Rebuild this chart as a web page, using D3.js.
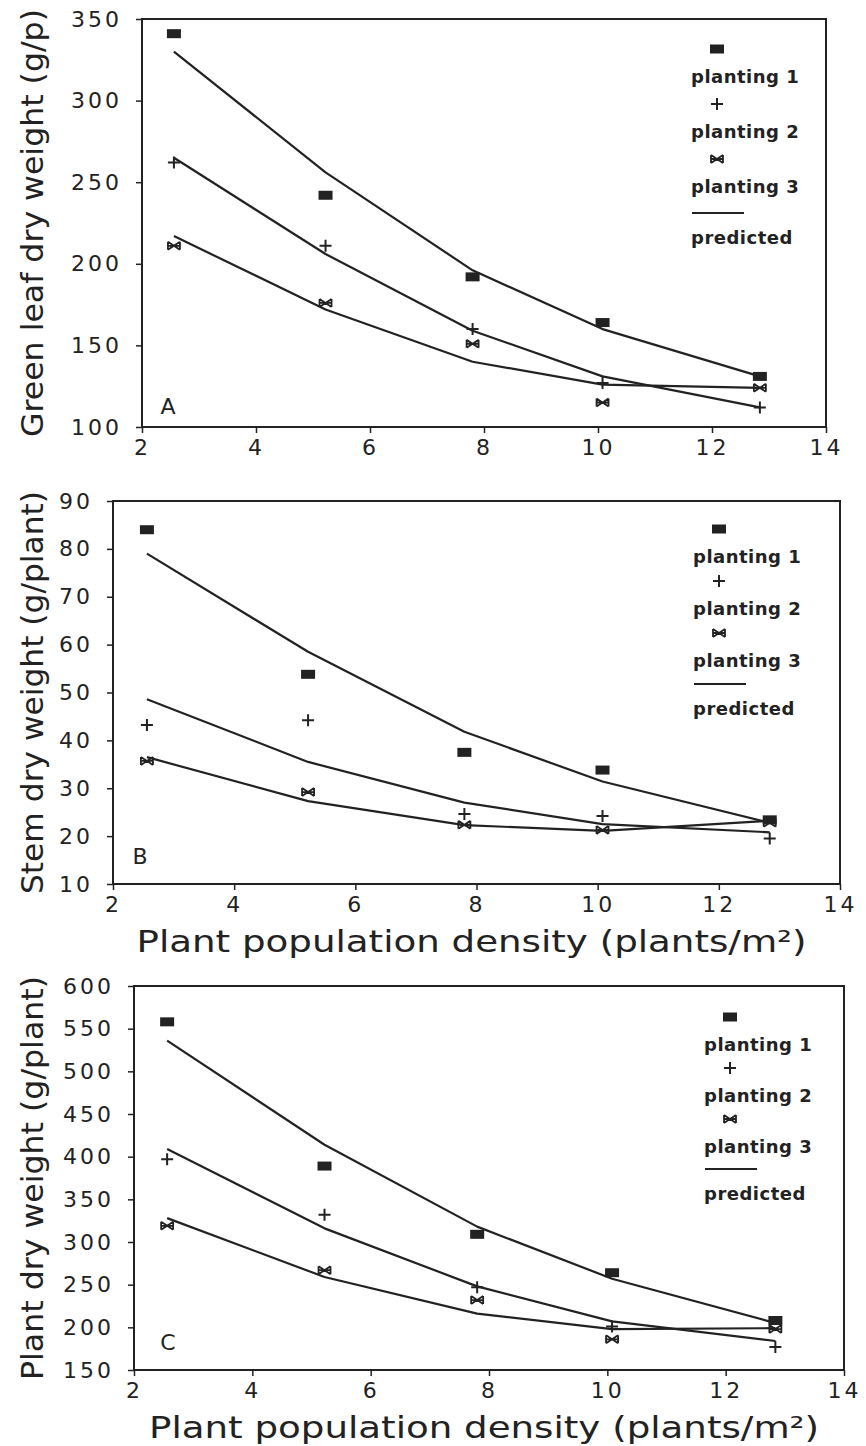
<!DOCTYPE html>
<html>
<head>
<meta charset="utf-8">
<script src="https://cdn.jsdelivr.net/npm/d3@7"></script>
<style>
  body { margin: 0; background: #fff; }
  text { font-family: "DejaVu Sans", sans-serif; fill: #222; }
</style>
</head>
<body>
<svg id="chart" width="866" height="1446"></svg>
<script>
// plant population density (plants/m2)
var density = [2.56, 5.22, 7.8, 10.08, 12.84];
var xTicks = [2, 4, 6, 8, 10, 12, 14];

// A: green leaf dry weight
var leafP1 = [341, 242, 192, 164, 131];
var leafP2 = [262, 211, 160, 127, 112];
var leafP3 = [211, 176, 151, 115, 124];
var leafPred1 = [330, 256, 196, 160, 131];
var leafPred2 = [265, 206, 159, 131, 112];
var leafPred3 = [217, 172, 140, 126, 124];
var leafTicks = [100, 150, 200, 250, 300, 350];

// B: stem dry weight
var stemP1 = [84, 53.8, 37.5, 33.8, 23.4];
var stemP2 = [43.2, 44.2, 24.6, 24.2, 19.5];
var stemP3 = [35.7, 29.2, 22.4, 21.3, 22.8];
var stemPred1 = [79, 58.5, 41.8, 31.4, 22.8];
var stemPred2 = [48.6, 35.5, 27, 22.5, 20.8];
var stemPred3 = [36.5, 27.3, 22.3, 21.1, 23.2];
var stemTicks = [10, 20, 30, 40, 50, 60, 70, 80, 90];

// C: plant dry weight
var plantP1 = [558, 389, 309, 264, 208];
var plantP2 = [397, 332, 247, 201, 177];
var plantP3 = [319, 267, 232, 186, 198];
var plantPred1 = [536, 414, 318, 257, 205];
var plantPred2 = [409, 316, 248, 207, 184];
var plantPred3 = [328, 259, 216, 198, 199];
var plantTicks = [150, 200, 250, 300, 350, 400, 450, 500, 550, 600];

var legendLabels = ["planting 1", "planting 2", "planting 3", "predicted"];
var markerTypes = ["square", "plus", "star"];
var xTitle = "Plant population density (plants/m\u00b2)";

var panels = [
  {letter: "A", ytitle: "Green leaf dry weight (g/p)", ticks: leafTicks,
   obs: [leafP1, leafP2, leafP3], pred: [leafPred1, leafPred2, leafPred3],
   left: 142, right: 826, top: 19, bottom: 427, xtitle: null,
   legX: 717, legY: 49, legStep: 55, letterPos: [168, 414]},
  {letter: "B", ytitle: "Stem dry weight (g/plant)", ticks: stemTicks,
   obs: [stemP1, stemP2, stemP3], pred: [stemPred1, stemPred2, stemPred3],
   left: 113, right: 840, top: 501, bottom: 884, xtitle: 952,
   legX: 719, legY: 529, legStep: 52, letterPos: [140, 864]},
  {letter: "C", ytitle: "Plant dry weight (g/plant)", ticks: plantTicks,
   obs: [plantP1, plantP2, plantP3], pred: [plantPred1, plantPred2, plantPred3],
   left: 134, right: 844, top: 986, bottom: 1370, xtitle: 1438,
   legX: 730, legY: 1017, legStep: 51, letterPos: [168, 1350]}
];

var svg = d3.select("#chart");
var ink = "#222";

function marker(g, type, x, y){
    if(type=="square"){
        g.append("rect").attr("x",x-7).attr("y",y-4.5)
            .attr("width",14).attr("height",9).attr("fill",ink);
    } else if(type=="plus"){
        g.append("path")
            .attr("d","M"+(x-6)+","+y+"H"+(x+6)+"M"+x+","+(y-6)+"V"+(y+6))
            .attr("stroke",ink).attr("stroke-width",2).attr("fill","none");
    } else {
        g.append("path")
            .attr("d","M"+(x-6)+","+(y-4)+"L"+(x+6)+","+(y+4)+"M"+(x-6)+","+(y+4)+"L"+(x+6)+","+(y-4)
                +"M"+(x-6)+","+y+"H"+(x+6)
                +"M"+(x-6)+","+(y-4)+"V"+(y+4)+"M"+(x+6)+","+(y-4)+"V"+(y+4))
            .attr("stroke",ink).attr("stroke-width",1.8).attr("fill","none");
    }
}

panels.forEach(function(p){
    var x = d3.scaleLinear().domain([2,14]).range([p.left,p.right]);
    var y = d3.scaleLinear().domain([p.ticks[0], p.ticks[p.ticks.length-1]]).range([p.bottom,p.top]);
    var g = svg.append("g");

    // frame
    g.append("rect").attr("x",p.left).attr("y",p.top)
        .attr("width",p.right-p.left).attr("height",p.bottom-p.top)
        .attr("fill","none").attr("stroke",ink).attr("stroke-width",2);

    var yAxis = g.append("g").attr("transform","translate("+p.left+",0)")
        .call(d3.axisLeft(y).tickValues(p.ticks).tickSize(6).tickPadding(14));
    yAxis.select(".domain").remove();
    yAxis.selectAll("line").attr("stroke",ink).attr("stroke-width",1.5);
    yAxis.selectAll("text").attr("font-size",22).attr("letter-spacing",3)
        .attr("fill",ink).style("font-family","DejaVu Sans");

    var xAxis = g.append("g").attr("transform","translate(0,"+p.bottom+")")
        .call(d3.axisBottom(x).tickValues(xTicks).tickSize(6).tickPadding(6));
    xAxis.select(".domain").remove();
    xAxis.selectAll("line").attr("stroke",ink).attr("stroke-width",1.5);
    xAxis.selectAll("text").attr("font-size",22).attr("letter-spacing",3)
        .attr("fill",ink).style("font-family","DejaVu Sans");

    // predicted lines
    var line = d3.line().x(function(d,i){return x(density[i]);}).y(function(d){return y(d);});
    p.pred.forEach(function(s){
        g.append("path").attr("d",line(s)).attr("fill","none")
            .attr("stroke",ink).attr("stroke-width",2.2).attr("stroke-linejoin","round");
    });

    // observed points
    p.obs.forEach(function(s,k){
        s.forEach(function(v,i){ marker(g, markerTypes[k], x(density[i]), y(v)); });
    });

    // panel letter
    g.append("text").attr("x",p.letterPos[0]).attr("y",p.letterPos[1])
        .attr("text-anchor","middle").attr("font-size",22).text(p.letter);

    // y title
    var cy = (p.top+p.bottom)/2;
    g.append("text").attr("transform","translate(43,"+cy+") rotate(-90)")
        .attr("text-anchor","middle").attr("font-size",30)
        .attr("textLength", p.bottom-p.top+20).attr("lengthAdjust","spacingAndGlyphs")
        .text(p.ytitle);

    if(p.xtitle){
        g.append("text").attr("x",(p.left+p.right)/2 - 5).attr("y",p.xtitle)
            .attr("text-anchor","middle").attr("font-size",30)
            .attr("textLength",670).attr("lengthAdjust","spacingAndGlyphs")
            .text(xTitle);
    }

    // legend
    var leg = g.append("g");
    markerTypes.forEach(function(t,k){
        var my = p.legY + k*p.legStep;
        marker(leg, t, p.legX, my);
        leg.append("text").attr("x",p.legX-26).attr("y",my+34)
            .attr("font-size",18).attr("font-weight","bold").attr("letter-spacing",0.5)
            .text(legendLabels[k]);
    });
    var ly = p.legY + 3*p.legStep - 1;
    leg.append("line").attr("x1",p.legX-25).attr("x2",p.legX+27)
        .attr("y1",ly).attr("y2",ly).attr("stroke",ink).attr("stroke-width",2.2);
    leg.append("text").attr("x",p.legX-26).attr("y",ly+31)
        .attr("font-size",18).attr("font-weight","bold").attr("letter-spacing",0.5)
        .text(legendLabels[3]);
});
</script>
</body>
</html>
